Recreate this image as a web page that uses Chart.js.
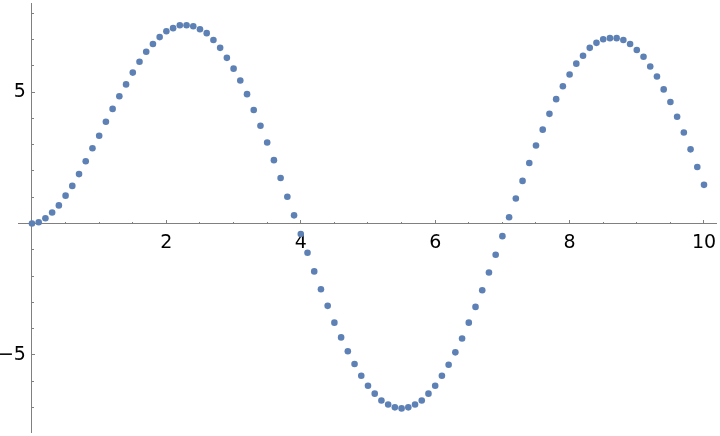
<!DOCTYPE html>
<html>
<head>
<meta charset="utf-8">
<script src="https://cdn.jsdelivr.net/npm/chart.js@4/dist/chart.umd.min.js"></script>
<style>
  html, body { margin: 0; padding: 0; background: #ffffff; }
  #wrap { width: 720px; height: 436px; }
</style>
</head>
<body>
<div id="wrap"><canvas id="c" width="720" height="436"></canvas></div>
<script>
// ---- data ----
const xValues = [
  0.0, 0.1, 0.2, 0.3, 0.4, 0.5, 0.6, 0.7, 0.8, 0.9,
  1.0, 1.1, 1.2, 1.3, 1.4, 1.5, 1.6, 1.7, 1.8, 1.9,
  2.0, 2.1, 2.2, 2.3, 2.4, 2.5, 2.6, 2.7, 2.8, 2.9,
  3.0, 3.1, 3.2, 3.3, 3.4, 3.5, 3.6, 3.7, 3.8, 3.9,
  4.0, 4.1, 4.2, 4.3, 4.4, 4.5, 4.6, 4.7, 4.8, 4.9,
  5.0, 5.1, 5.2, 5.3, 5.4, 5.5, 5.6, 5.7, 5.8, 5.9,
  6.0, 6.1, 6.2, 6.3, 6.4, 6.5, 6.6, 6.7, 6.8, 6.9,
  7.0, 7.1, 7.2, 7.3, 7.4, 7.5, 7.6, 7.7, 7.8, 7.9,
  8.0, 8.1, 8.2, 8.3, 8.4, 8.5, 8.6, 8.7, 8.8, 8.9,
  9.0, 9.1, 9.2, 9.3, 9.4, 9.5, 9.6, 9.7, 9.8, 9.9,
  10.0
];
const yValues = [
  0.00, 0.05, 0.20, 0.42, 0.69, 1.06, 1.43, 1.88, 2.37, 2.86,
  3.34, 3.87, 4.36, 4.84, 5.29, 5.74, 6.15, 6.53, 6.83, 7.09,
  7.31, 7.43, 7.54, 7.54, 7.50, 7.39, 7.24, 6.98, 6.68, 6.30,
  5.89, 5.44, 4.92, 4.32, 3.72, 3.08, 2.41, 1.73, 1.02, 0.31,
  -0.40, -1.11, -1.82, -2.50, -3.13, -3.77, -4.33, -4.86, -5.34, -5.79,
  -6.17, -6.47, -6.73, -6.88, -6.99, -7.03, -6.99, -6.88, -6.73, -6.47,
  -6.17, -5.79, -5.37, -4.90, -4.37, -3.77, -3.17, -2.54, -1.86, -1.19,
  -0.48, 0.24, 0.95, 1.62, 2.30, 2.97, 3.57, 4.17, 4.73, 5.22,
  5.67, 6.08, 6.38, 6.68, 6.87, 7.01, 7.05, 7.05, 6.98, 6.83,
  6.60, 6.34, 5.97, 5.59, 5.10, 4.62, 4.06, 3.46, 2.82, 2.15,
  1.47
];
const xMajorTicks = [2, 4, 6, 8, 10];
const xMinorTicks = [0.5, 1, 1.5, 2.5, 3, 3.5, 4.5, 5, 5.5, 6.5, 7, 7.5, 8.5, 9, 9.5];
const yMajorTicks = [-5, 5];
const yMinorTicks = [-7, -6, -4, -3, -2, -1, 1, 2, 3, 4, 6, 7, 8];

// ---- chart ----
const AXIS = '#808080';
const FONT = { family: 'DejaVu Sans', size: 19 };
const X_MIN = -0.208, X_MAX = 10.189;
const Y_MIN = -7.955, Y_MAX = 8.375;

const points = xValues.map((x, i) => ({ x: x, y: yValues[i] }));

function fixTicks(arr) {
  return function (scale) { scale.ticks = arr.map(v => ({ value: v })); };
}
function noSpaceH(scale) { scale.height = 0; scale.paddingLeft = 0; scale.paddingRight = 0; }
function noSpaceV(scale) { scale.width = 0; scale.paddingTop = 0; scale.paddingBottom = 0; }
function fmt(v) { return (v < 0 ? '\u2212' + Math.abs(v) : String(v)) + ' '; }

new Chart(document.getElementById('c'), {
  type: 'scatter',
  data: {
    datasets: [{
      data: points,
      backgroundColor: '#5E81B5',
      borderColor: '#5E81B5',
      pointRadius: 3.3,
      pointBorderWidth: 0,
      pointHoverRadius: 3.3,
      showLine: false,
      xAxisID: 'x',
      yAxisID: 'y'
    }]
  },
  options: {
    responsive: false,
    animation: false,
    events: [],
    layout: { padding: { left: 18, right: 3, top: 0, bottom: 0 } },
    plugins: { legend: { display: false }, tooltip: { enabled: false } },
    scales: {
      x: {
        type: 'linear', position: { y: 0 }, min: X_MIN, max: X_MAX,
        afterBuildTicks: fixTicks(xMajorTicks), afterFit: noSpaceH,
        grid: { drawOnChartArea: false, drawTicks: true, tickLength: -4, tickColor: AXIS, tickWidth: 1 },
        border: { display: true, color: AXIS, width: 1 },
        ticks: { font: FONT, color: '#000', padding: 12, maxRotation: 0, autoSkip: false }
      },
      x2: {
        type: 'linear', position: { y: 0 }, min: X_MIN, max: X_MAX,
        afterBuildTicks: fixTicks(xMinorTicks), afterFit: noSpaceH,
        grid: { drawOnChartArea: false, drawTicks: true, tickLength: -2, tickColor: AXIS, tickWidth: 1 },
        border: { display: false },
        ticks: { display: true, callback: () => '', font: FONT, padding: 0, maxRotation: 0, autoSkip: false }
      },
      y: {
        type: 'linear', position: { x: 0 }, min: Y_MIN, max: Y_MAX,
        afterBuildTicks: fixTicks(yMajorTicks), afterFit: noSpaceV,
        grid: { drawOnChartArea: false, drawTicks: true, tickLength: -4, tickColor: AXIS, tickWidth: 1 },
        border: { display: true, color: AXIS, width: 1 },
        ticks: { font: FONT, color: '#000', padding: 4, autoSkip: false, callback: fmt }
      },
      y2: {
        type: 'linear', position: { x: 0 }, min: Y_MIN, max: Y_MAX,
        afterBuildTicks: fixTicks(yMinorTicks), afterFit: noSpaceV,
        grid: { drawOnChartArea: false, drawTicks: true, tickLength: -2, tickColor: AXIS, tickWidth: 1 },
        border: { display: false },
        ticks: { display: true, callback: () => '', font: FONT, padding: 0, autoSkip: false }
      }
    }
  }
});
</script>
</body>
</html>
